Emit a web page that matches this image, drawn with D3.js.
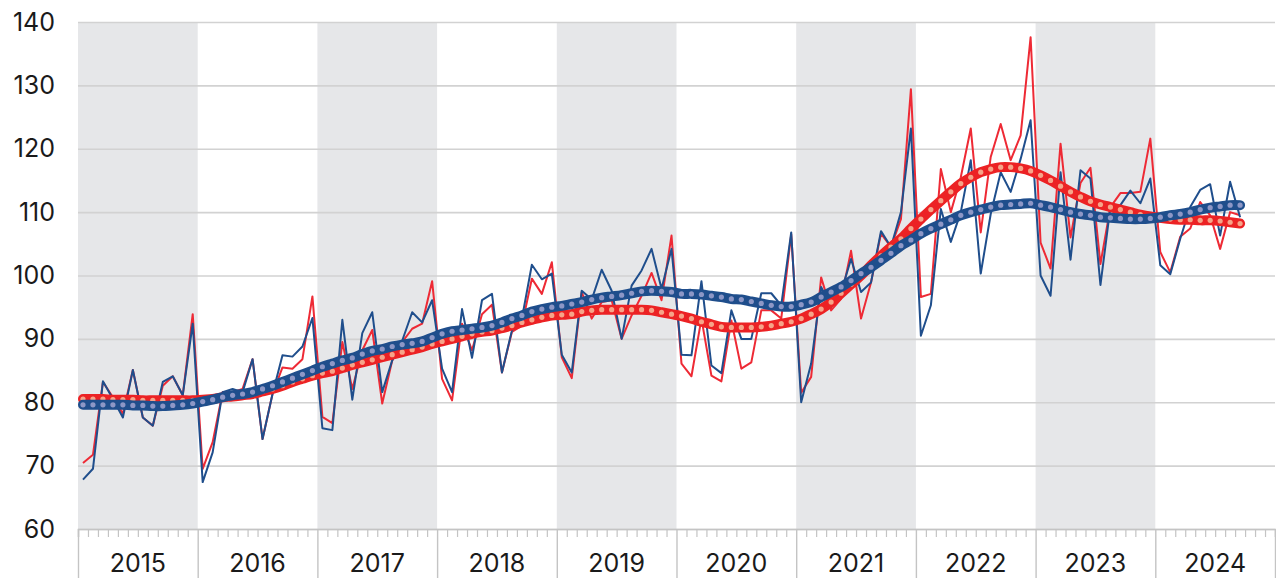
<!DOCTYPE html>
<html>
<head>
<meta charset="utf-8">
<script src="https://cdn.jsdelivr.net/npm/d3@7"></script>
<style>
  body { margin: 0; background: #fff; }
  text { font-family: Inter, "Liberation Sans", Arial, sans-serif; fill: #1a1a1a; }
</style>
</head>
<body>
<div class="canvas"></div>
<script>
// chart values (monthly, Jan 2015 - Sep 2024)
const years = [2015, 2016, 2017, 2018, 2019, 2020, 2021, 2022, 2023, 2024];
const yTicks = [60, 70, 80, 90, 100, 110, 120, 130, 140];

const redMonthly = [
  70.4, 71.7, 83.2, 80.8, 78.2, 85.1, 77.6, 76.3, 82.6, 84.1, 81.1, 93.9,
  69.5, 73.7, 81.6, 81.6, 82.1, 86.8, 74.2, 81.3, 85.5, 85.3, 86.8, 96.7,
  77.7, 76.7, 89.5, 82.1, 88.2, 91.4, 79.8, 86.6, 89.5, 91.6, 92.4, 99.1,
  83.7, 80.3, 92.4, 88.2, 93.9, 95.4, 84.7, 91.1, 92.1, 99.5, 97.1, 102.1,
  87.1, 83.8, 97.4, 93.2, 95.8, 96.1, 90.0, 93.7, 96.8, 100.4, 96.1, 106.3,
  86.1, 84.1, 93.2, 84.2, 83.3, 92.9, 85.3, 86.3, 94.5, 94.5, 93.2, 106.5,
  81.5, 84.0, 99.7, 94.5, 96.3, 103.9, 93.2, 98.9, 106.6, 104.5, 108.9, 129.4,
  96.6, 97.1, 116.8, 110.0, 115.5, 123.2, 106.8, 118.7, 123.9, 118.2, 122.1, 137.6,
  105.2, 101.1, 120.8, 106.0, 114.6, 117.0, 101.8, 110.8, 113.0, 113.0, 113.2, 121.6,
  103.7, 100.5, 106.1, 107.4, 111.6, 109.5, 104.2, 110.0, 109.5
];

const blueMonthly = [
  67.8, 69.5, 83.3, 80.5, 77.6, 85.1, 77.6, 76.3, 83.2, 84.1, 81.1, 92.4,
  67.4, 72.1, 81.6, 82.1, 81.6, 86.8, 74.2, 81.3, 87.4, 87.2, 88.8, 93.3,
  75.9, 75.6, 93.0, 80.4, 90.9, 94.2, 81.6, 86.6, 89.7, 94.2, 92.6, 96.1,
  85.3, 81.6, 94.7, 87.0, 96.1, 97.1, 84.7, 91.3, 93.2, 101.7, 99.4, 100.3,
  87.5, 84.7, 97.6, 96.2, 100.9, 97.6, 90.0, 98.4, 100.8, 104.2, 97.9, 104.2,
  87.5, 87.4, 99.1, 85.8, 84.6, 94.5, 90.0, 90.0, 97.2, 97.2, 95.3, 106.8,
  80.0, 86.1, 98.2, 95.0, 97.4, 102.6, 97.4, 98.9, 107.0, 104.5, 110.0, 123.2,
  90.5, 95.3, 110.5, 105.3, 110.0, 118.2, 100.3, 109.7, 116.3, 113.2, 118.4, 124.5,
  100.0, 96.8, 116.3, 102.5, 116.6, 115.3, 98.5, 110.8, 111.1, 113.4, 111.4, 115.3,
  101.6, 100.2, 105.8, 110.8, 113.5, 114.4, 106.3, 114.8, 109.2
];

const redTrend = [
  80.5, 80.5, 80.5, 80.4, 80.4, 80.4, 80.3, 80.3, 80.3, 80.3, 80.3, 80.3,
  80.4, 80.5, 80.8, 80.9, 81.1, 81.3, 81.7, 82.1, 82.6, 83.2, 83.7, 84.2,
  84.6, 84.9, 85.4, 85.9, 86.3, 86.7, 87.1, 87.5, 87.9, 88.3, 88.7, 89.2,
  89.6, 90.0, 90.4, 90.8, 91.1, 91.3, 91.7, 92.1, 92.6, 93.0, 93.4, 93.7,
  93.8, 93.9, 94.3, 94.5, 94.6, 94.6, 94.6, 94.6, 94.6, 94.5, 94.2, 93.9,
  93.6, 93.2, 92.7, 92.3, 91.9, 91.8, 91.8, 91.8, 91.9, 92.1, 92.4, 92.7,
  93.2, 93.9, 94.7, 95.8, 97.2, 98.6, 100.0, 101.6, 103.1, 104.5, 105.8, 107.4,
  108.9, 110.4, 111.8, 113.2, 114.5, 115.5, 116.3, 116.8, 117.1, 117.1, 116.9, 116.5,
  115.8, 115.0, 114.1, 113.2, 112.4, 111.7, 111.2, 110.8, 110.4, 110.0, 109.6, 109.3,
  109.1, 108.9, 108.8, 108.8, 108.7, 108.7, 108.6, 108.4, 108.2
];

const blueTrend = [
  79.6, 79.6, 79.6, 79.6, 79.6, 79.5, 79.5, 79.4, 79.4, 79.5, 79.6, 79.8,
  80.1, 80.4, 80.8, 81.1, 81.3, 81.6, 82.1, 82.6, 83.2, 83.8, 84.4, 85.0,
  85.6, 86.1, 86.6, 87.0, 87.6, 88.1, 88.4, 88.8, 89.1, 89.3, 89.6, 90.2,
  90.8, 91.2, 91.4, 91.6, 91.8, 92.1, 92.6, 93.2, 93.7, 94.3, 94.7, 95.0,
  95.2, 95.5, 95.8, 96.2, 96.5, 96.7, 96.9, 97.2, 97.5, 97.6, 97.5, 97.4,
  97.1, 97.1, 97.0, 96.8, 96.6, 96.3, 96.2, 95.9, 95.6, 95.3, 95.1, 95.1,
  95.4, 95.8, 96.6, 97.4, 98.2, 99.2, 100.3, 101.3, 102.4, 103.5, 104.7, 105.6,
  106.6, 107.4, 108.1, 108.8, 109.5, 110.0, 110.4, 110.8, 111.1, 111.2, 111.3, 111.4,
  111.1, 110.8, 110.4, 110.0, 109.7, 109.5, 109.2, 109.1, 109.0, 108.9, 108.9, 109.0,
  109.2, 109.5, 109.7, 110.0, 110.4, 110.7, 110.9, 111.1, 111.1
];

const width = 1276;
const height = 578;
const margin = { top: 22, right: 1, bottom: 49, left: 78 };
const graphWidth = width - margin.left - margin.right;
const graphHeight = height - margin.top - margin.bottom;

const svg = d3.select('.canvas').append('svg')
  .attr('width', width)
  .attr('height', height);

const graph = svg.append('g')
  .attr('transform', `translate(${margin.left}, ${margin.top})`);

// scales: x in months since Jan 2015
const x = d3.scaleLinear()
  .domain([0, years.length * 12])
  .range([0, graphWidth]);

const y = d3.scaleLinear()
  .domain([60, 140])
  .range([graphHeight, 0]);

// shaded years
graph.append('g').selectAll('rect')
  .data(years.filter((d, i) => i % 2 === 0))
  .enter().append('rect')
    .attr('x', d => x((d - years[0]) * 12))
    .attr('y', 0)
    .attr('width', x(12) - x(0))
    .attr('height', graphHeight)
    .attr('fill', '#e6e7e9');

// gridlines
const grid = graph.append('g')
  .call(d3.axisLeft(y).tickValues(yTicks).tickSize(-graphWidth).tickFormat(''));
grid.select('.domain').remove();
grid.selectAll('line').attr('stroke', '#d2d2d2').attr('stroke-width', 1.6);

// y labels
const yAxisGroup = graph.append('g')
  .call(d3.axisLeft(y).tickValues(yTicks).tickSize(0).tickPadding(23));
yAxisGroup.select('.domain').remove();
yAxisGroup.selectAll('text')
  .attr('font-size', 25)
  .attr('font-family', 'Inter, "Liberation Sans", sans-serif')
  .attr('fill', '#1a1a1a');

// x axis: monthly minor ticks + year separators
const months = d3.range(0, years.length * 12 + 1);
const minorAxis = graph.append('g')
  .attr('transform', `translate(0, ${graphHeight})`)
  .call(d3.axisBottom(x).tickValues(months.filter(m => m % 12 !== 0)).tickSize(8).tickFormat(''));
minorAxis.selectAll('line').attr('stroke', '#c4c4c4').attr('stroke-width', 1.2);
minorAxis.select('.domain').attr('stroke', '#c4c4c4').attr('stroke-width', 1.6);

const yearAxis = graph.append('g')
  .attr('transform', `translate(0, ${graphHeight})`)
  .call(d3.axisBottom(x).tickValues(months.filter(m => m % 12 === 0)).tickSize(margin.bottom).tickFormat(''));
yearAxis.select('.domain').remove();
yearAxis.selectAll('line').attr('stroke', '#c4c4c4').attr('stroke-width', 1.4);

graph.append('g').selectAll('text')
  .data(years)
  .enter().append('text')
    .attr('x', (d, i) => x(i * 12 + 6))
    .attr('y', graphHeight + 43)
    .attr('text-anchor', 'middle')
    .attr('font-size', 25)
    .text(d => d);

// lines
const line = d3.line()
  .x((d, i) => x(i + 0.5))
  .y(d => y(d));

const smooth = d3.line()
  .x((d, i) => x(i + 0.5))
  .y(d => y(d))
  .curve(d3.curveCatmullRom);

graph.append('path').datum(redMonthly)
  .attr('d', line)
  .attr('fill', 'none')
  .attr('stroke', '#ee2a35')
  .attr('stroke-width', 2)
  .attr('stroke-linejoin', 'round');

graph.append('path').datum(blueMonthly)
  .attr('d', line)
  .attr('fill', 'none')
  .attr('stroke', '#1f4e8c')
  .attr('stroke-width', 2)
  .attr('stroke-linejoin', 'round');

// trend lines with dotted markers
const drawTrend = (data, color, dotColor) => {
  graph.append('path').datum(data)
    .attr('d', smooth)
    .attr('fill', 'none')
    .attr('stroke', color)
    .attr('stroke-width', 10)
    .attr('stroke-linecap', 'round');

  graph.append('g').selectAll('circle')
    .data(data)
    .enter().append('circle')
      .attr('cx', (d, i) => x(i + 0.5))
      .attr('cy', d => y(d))
      .attr('r', 2.6)
      .attr('fill', dotColor);
};

drawTrend(redTrend, '#ec2224', '#f6a489');
drawTrend(blueTrend, '#1f4e8c', '#8d97c6');
</script>
</body>
</html>
